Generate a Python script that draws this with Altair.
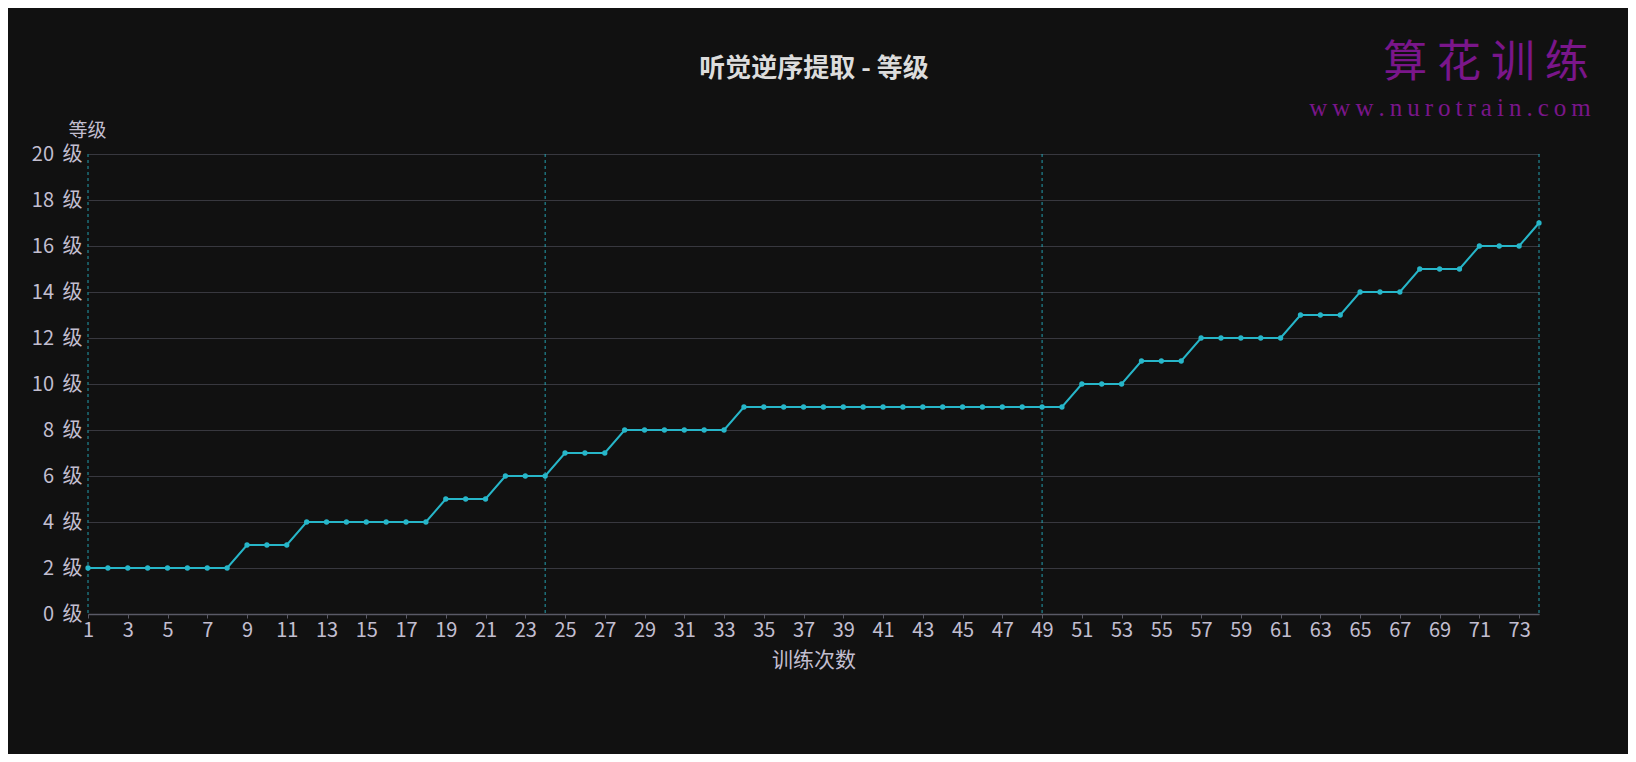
import altair as alt
import pandas as pd

# ---- data ----
sessions = list(range(1, 75))
levels = [2, 2, 2, 2, 2, 2, 2, 2,
          3, 3, 3,
          4, 4, 4, 4, 4, 4, 4,
          5, 5, 5,
          6, 6, 6,
          7, 7, 7,
          8, 8, 8, 8, 8, 8,
          9, 9, 9, 9, 9, 9, 9, 9, 9, 9, 9, 9, 9, 9, 9, 9, 9,
          10, 10, 10,
          11, 11, 11,
          12, 12, 12, 12, 12,
          13, 13, 13,
          14, 14, 14,
          15, 15, 15,
          16, 16, 16,
          17]
marker_sessions = [1, 24, 49, 74]
x_tick_values = list(range(1, 74, 2))
y_tick_values = list(range(0, 21, 2))

title_text = "听觉逆序提取 - 等级"
x_title = "训练次数"
y_title = "等级"
brand_cn = "算 花 训 练"
brand_url = "\u2009".join("www.nurotrain.com")

FONT = "Noto Sans CJK SC"
LINE_COLOR = "#27b6c9"
LABEL_COLOR = "#c2bed0"

df = pd.DataFrame({"session": sessions, "level": levels})
rules_df = pd.DataFrame({"session": marker_sessions})

x_scale = alt.Scale(domain=[1, 74], nice=False, zero=False)
y_scale = alt.Scale(domain=[0, 20], nice=False)

x_enc = alt.X(
    "session:Q",
    scale=x_scale,
    axis=alt.Axis(
        title=x_title,
        values=x_tick_values,
        grid=False,
        tickSize=4,
        tickColor="#5a5a66",
        domainColor="#5a5a66",
        domainWidth=1.5,
        labelPadding=2,
        labelFontSize=20,
        labelColor=LABEL_COLOR,
        labelFont=FONT,
        labelFlush=False,
        titleFont=FONT,
        titleFontSize=21,
        titleFontWeight="normal",
        titleColor=LABEL_COLOR,
        titlePadding=9,
    ),
)
y_enc = alt.Y(
    "level:Q",
    scale=y_scale,
    axis=alt.Axis(
        title=y_title,
        values=y_tick_values,
        labelExpr="datum.value + '\u2009 级'",
        grid=True,
        gridColor="#38383f",
        gridWidth=1,
        ticks=False,
        domain=False,
        labelPadding=6,
        labelFontSize=20,
        labelColor=LABEL_COLOR,
        labelFont=FONT,
        titleFont=FONT,
        titleFontSize=19,
        titleFontWeight="normal",
        titleColor=LABEL_COLOR,
        titleAngle=0,
        titleAlign="left",
        titleBaseline="middle",
        titleX=-20,
        titleY=-24,
    ),
)

rules = alt.Chart(rules_df).mark_rule(
    color=LINE_COLOR, strokeWidth=1, strokeDash=[3, 3], opacity=0.85
).encode(x=alt.X("session:Q", scale=x_scale))

line = alt.Chart(df).mark_line(
    color=LINE_COLOR, strokeWidth=2,
    point=alt.OverlayMarkDef(filled=True, color=LINE_COLOR, size=28, opacity=1),
).encode(x=x_enc, y=y_enc)

title_df = pd.DataFrame({"t": [title_text]})
brand_df = pd.DataFrame({"t": [brand_cn]})
url_df = pd.DataFrame({"t": [brand_url]})

title = alt.Chart(title_df).mark_text(
    font=FONT, fontSize=26, fontWeight="bold", color="#dcdcdc",
    align="center", baseline="middle"
).encode(text="t:N", x=alt.value(726), y=alt.value(-85))

brand = alt.Chart(brand_df).mark_text(
    font=FONT, fontSize=44, color="#7a168a", align="center", baseline="middle"
).encode(text="t:N", x=alt.value(1398), y=alt.value(-90))

url = alt.Chart(url_df).mark_text(
    font="Liberation Serif", fontSize=25, color="#7a168a", align="center", baseline="middle"
).encode(text="t:N", x=alt.value(1362), y=alt.value(-46))

chart = alt.layer(rules, line, title, brand, url).properties(
    width=1451,
    height=460,
    padding={"left": 80, "top": 146, "right": 89, "bottom": 140},
    autosize=alt.AutoSizeParams(type="none"),
    background="#111111",
).configure_view(stroke=None)

chart.save("out.html", embed_options={"renderer": "svg", "actions": False})
